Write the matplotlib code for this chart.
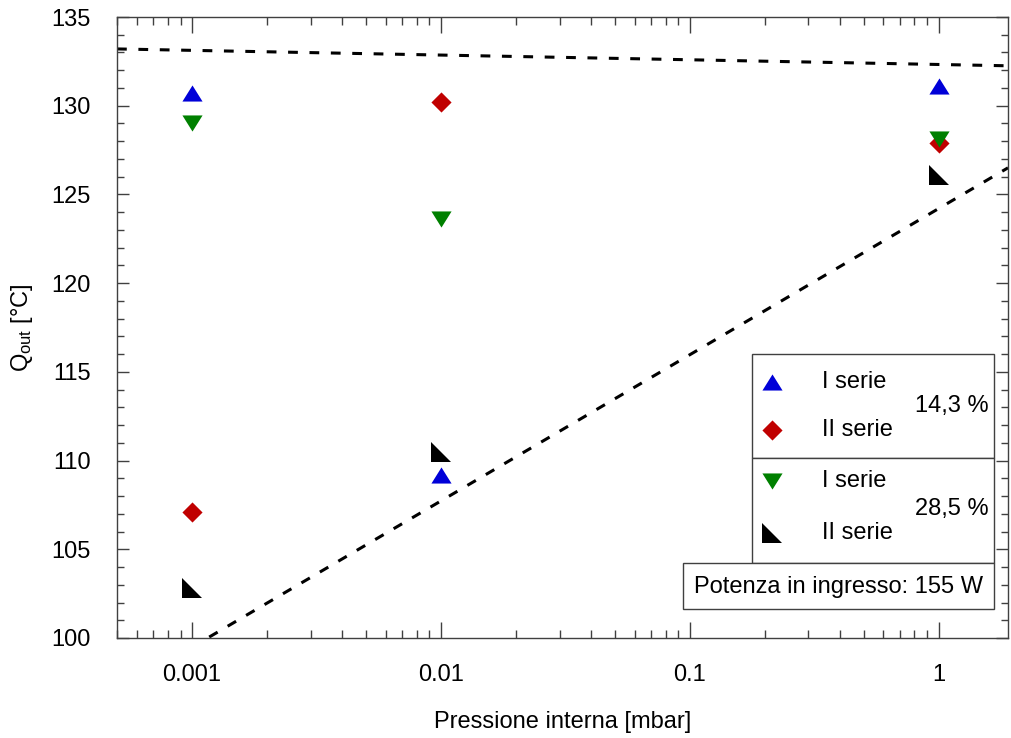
import numpy as np
import matplotlib
matplotlib.use('Agg')
from matplotlib import pyplot as plt
from matplotlib.path import Path
from matplotlib.patches import Rectangle
from matplotlib.ticker import FixedLocator, FixedFormatter, LogLocator, NullFormatter, MultipleLocator

plt.rcParams['font.family'] = ['Liberation Sans', 'DejaVu Sans']
plt.rcParams['mathtext.fontset'] = 'custom'
plt.rcParams['mathtext.rm'] = 'Liberation Sans'
plt.rcParams['mathtext.it'] = 'Liberation Sans:italic'

# data
pressure = [0.001, 0.01, 1]
s1_143 = [130.7, 109.2, 131.1]   # I serie 14,3 %
s2_143 = [107.1, 130.2, 127.9]   # II serie 14,3 %
s1_285 = [129.0, 123.6, 128.1]   # I serie 28,5 %
s2_285 = [102.8, 110.5, 126.1]   # II serie 28,5 %

line_x = [0.0005, 1.9]
line_top = [133.2, 132.25]
line_bot = [97.0, 126.5]

x_ticks = [0.001, 0.01, 0.1, 1]
x_labels = ['0.001', '0.01', '0.1', '1']

FS = 17

# custom marker shapes
up = Path([(-1, -0.8), (1, -0.8), (0, 0.8), (-1, -0.8)], closed=True)
down = Path([(-1, 0.8), (1, 0.8), (0, -0.8), (-1, 0.8)], closed=True)
diam = Path([(0, 1), (1, 0), (0, -1), (-1, 0), (0, 1)], closed=True)
corner = Path([(-1, 1), (-1, -1), (1, -1), (-1, 1)], closed=True)

styles = [
    (s1_143, up, '#0000d8'),
    (s2_143, diam, '#c00000'),
    (s1_285, down, '#008000'),
    (s2_285, corner, '#000000'),
]

W, H = 1011, 738
fig = plt.figure(figsize=(W / 100, H / 100), dpi=100)
ax = fig.add_axes([117 / W, 1 - 638 / H, (1008 - 117) / W, (638 - 17) / H])

ax.plot(line_x, line_top, color='black', lw=2.2, ls=(0, (3.2, 3.8)), zorder=1)
ax.plot(line_x, line_bot, color='black', lw=2.2, ls=(0, (3.2, 3.8)), zorder=1)

for vals, mk, col in styles:
    ax.plot(pressure, vals, ls='none', marker=mk, ms=14.5, color=col, mec=col, mew=0, zorder=3)

ax.set_xscale('log')
ax.set_xlim(0.0005, 1.9)
ax.set_ylim(100, 135)
ax.xaxis.set_major_locator(FixedLocator(x_ticks))
ax.xaxis.set_major_formatter(FixedFormatter(x_labels))
ax.xaxis.set_minor_locator(LogLocator(base=10, subs=np.arange(2, 10)))
ax.xaxis.set_minor_formatter(NullFormatter())
ax.yaxis.set_major_locator(MultipleLocator(5))
ax.yaxis.set_minor_locator(MultipleLocator(1))

edge = '#404040'
for sp in ax.spines.values():
    sp.set_color(edge)
    sp.set_linewidth(1.0)
ax.tick_params(axis='both', which='both', direction='in', color=edge, width=1.0,
               top=True, right=True, labelsize=FS)
ax.tick_params(axis='x', which='major', length=11.5, pad=19)
ax.tick_params(axis='x', which='minor', length=6)
ax.tick_params(axis='y', which='major', length=8.5, pad=19)
ax.tick_params(axis='y', which='minor', length=5)

ax.set_xlabel('Pressione interna [mbar]', fontsize=FS, labelpad=18)
ax.set_ylabel('Q$_{\\mathrm{out}}$ [°C]', fontsize=FS, labelpad=12)


def fx(px):
    return px / W


def fy(py):
    return 1 - py / H


# legend boxes drawn in figure pixels
box_kw = dict(transform=fig.transFigure, fill=True, facecolor='white', edgecolor='#404040', lw=1.0, zorder=5)
fig.patches.append(Rectangle((fx(752), fy(458)), fx(994) - fx(752), fy(354) - fy(458), **box_kw))
fig.patches.append(Rectangle((fx(752), fy(563)), fx(994) - fx(752), fy(458) - fy(563), **box_kw))
fig.patches.append(Rectangle((fx(683), fy(609)), fx(994) - fx(683), fy(563) - fy(609), **box_kw))

rows = [(382, 'I serie'), (430, 'II serie'), (481, 'I serie'), (533, 'II serie')]
for (py, lab), (_, mk, col) in zip(rows, styles):
    fig.lines.append(plt.Line2D([fx(772)], [fy(py)], transform=fig.transFigure, ls='none',
                                marker=mk, ms=14.5, color=col, mew=0, zorder=6))
    fig.text(fx(822), fy(py), lab, fontsize=FS, va='center', ha='left', zorder=7)
fig.text(fx(989), fy(406), '14,3 %', fontsize=FS, va='center', ha='right', zorder=7)
fig.text(fx(989), fy(509), '28,5 %', fontsize=FS, va='center', ha='right', zorder=7)
fig.text(fx(838), fy(587), 'Potenza in ingresso: 155 W', fontsize=FS, va='center', ha='center', zorder=7)

fig.savefig('out.png', dpi=100)
